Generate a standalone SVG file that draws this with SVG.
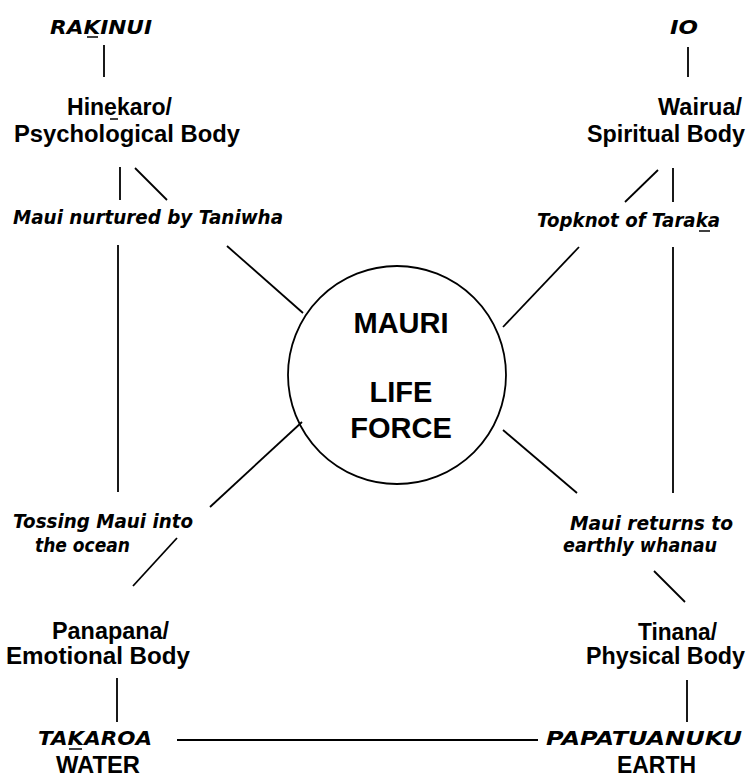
<svg xmlns="http://www.w3.org/2000/svg" width="750" height="778" viewBox="0 0 750 778">
<style>
.b{font-family:"Liberation Sans",Arial,sans-serif;font-weight:bold;font-size:23px;fill:#000}
.i{font-family:"DejaVu Sans","Liberation Sans",sans-serif;font-weight:bold;font-style:italic;font-size:20px;fill:#000}
.big{font-family:"Liberation Sans",Arial,sans-serif;font-weight:bold;font-size:29px;fill:#000;text-anchor:middle}
.l{stroke:#000;stroke-width:1.8;fill:none}
.u{stroke:#000;stroke-width:1.5}
</style>
<rect width="750" height="778" fill="#fff"/>
<g id="connectors">
<line class="l" x1="104" y1="45" x2="104" y2="77"/>
<line class="l" x1="688" y1="47" x2="688" y2="77"/>
<line class="l" x1="120" y1="167" x2="120" y2="200"/>
<line class="l" x1="135" y1="168" x2="167" y2="200"/>
<line class="l" x1="118" y1="245" x2="118" y2="492"/>
<line class="l" x1="227" y1="246" x2="303" y2="313"/>
<line class="l" x1="658" y1="170" x2="625" y2="202"/>
<line class="l" x1="673" y1="168" x2="673" y2="202"/>
<line class="l" x1="673" y1="247" x2="673" y2="493"/>
<line class="l" x1="579" y1="247" x2="503" y2="327"/>
<line class="l" x1="302" y1="422" x2="210" y2="507"/>
<line class="l" x1="177" y1="538" x2="133" y2="586"/>
<line class="l" x1="503" y1="430" x2="577" y2="493"/>
<line class="l" x1="654" y1="571" x2="685" y2="602"/>
<line class="l" x1="117" y1="678" x2="117" y2="722"/>
<line class="l" x1="687" y1="680" x2="687" y2="722"/>
<line class="l" x1="177" y1="740" x2="538" y2="740"/>
</g>
<g id="rakinui"><text class="i" x="50" y="34" textLength="102" lengthAdjust="spacingAndGlyphs">RAKINUI</text><line class="u" x1="87" y1="37" x2="98" y2="37"/></g>
<g id="io"><text class="i" x="670" y="34" textLength="28" lengthAdjust="spacingAndGlyphs">IO</text></g>
<g id="hinekaro"><text class="b" x="67" y="115" textLength="105" lengthAdjust="spacingAndGlyphs">Hinekaro/</text><line class="u" x1="110" y1="119" x2="118" y2="119"/><text class="b" x="14" y="142" textLength="226" lengthAdjust="spacingAndGlyphs">Psychological Body</text></g>
<g id="wairua"><text class="b" x="658" y="115" textLength="84" lengthAdjust="spacingAndGlyphs">Wairua/</text><text class="b" x="587" y="142" textLength="158" lengthAdjust="spacingAndGlyphs">Spiritual Body</text></g>
<g id="maui-nurtured"><text class="i" x="13" y="224" textLength="270" lengthAdjust="spacingAndGlyphs">Maui nurtured by Taniwha</text></g>
<g id="topknot"><text class="i" x="537" y="227" textLength="183" lengthAdjust="spacingAndGlyphs">Topknot of Taraka</text><line class="u" x1="699" y1="231" x2="710" y2="231"/></g>
<g id="mauri"><circle class="l" cx="397" cy="375" r="109"/><text class="big" x="401" y="333">MAURI</text><text class="big" x="401" y="402">LIFE</text><text class="big" x="401" y="438">FORCE</text></g>
<g id="tossing"><text class="i" x="13" y="528" textLength="180" lengthAdjust="spacingAndGlyphs">Tossing Maui into</text><text class="i" x="35" y="552" textLength="95" lengthAdjust="spacingAndGlyphs">the ocean</text></g>
<g id="returns"><text class="i" x="570" y="530" textLength="163" lengthAdjust="spacingAndGlyphs">Maui returns to</text><text class="i" x="563" y="552" textLength="154" lengthAdjust="spacingAndGlyphs">earthly whanau</text></g>
<g id="panapana"><text class="b" x="52" y="639" textLength="117" lengthAdjust="spacingAndGlyphs">Panapana/</text><text class="b" x="6" y="664" textLength="184" lengthAdjust="spacingAndGlyphs">Emotional Body</text></g>
<g id="tinana"><text class="b" x="638" y="640" textLength="79" lengthAdjust="spacingAndGlyphs">Tinana/</text><text class="b" x="586" y="664" textLength="159" lengthAdjust="spacingAndGlyphs">Physical Body</text></g>
<g id="takaroa"><text class="i" x="38" y="745" textLength="114" lengthAdjust="spacingAndGlyphs">TAKAROA</text><line class="u" x1="69" y1="749" x2="82" y2="749"/><text class="b" x="56" y="773" font-size="22" textLength="84" lengthAdjust="spacingAndGlyphs">WATER</text></g>
<g id="papatuanuku"><text class="i" x="546" y="745" textLength="196" lengthAdjust="spacingAndGlyphs">PAPATUANUKU</text><text class="b" x="617" y="773" font-size="22" textLength="79" lengthAdjust="spacingAndGlyphs">EARTH</text></g>
</svg>
